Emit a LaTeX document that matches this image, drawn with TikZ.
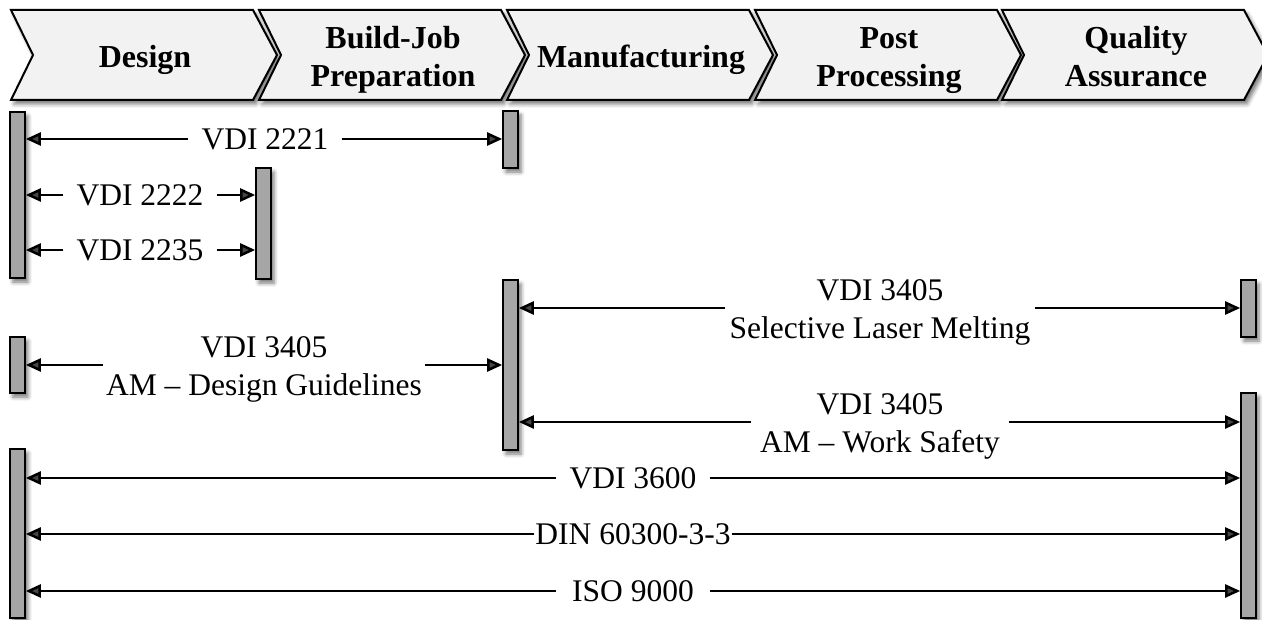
\documentclass[tikz,border=0pt]{standalone}
\usepackage{fontspec}
\setmainfont{Liberation Serif}
\usetikzlibrary{arrows.meta,shadows.blur}

\definecolor{chevfill}{HTML}{F2F2F2}
\definecolor{barfill}{HTML}{A6A6A6}

\begin{document}
\begin{tikzpicture}[x=1pt,y=-1pt,
  softshadow/.style={blur shadow={shadow xshift=3pt,shadow yshift=-4pt,
      shadow blur radius=4pt,shadow opacity=55}},
  chev/.style={draw=black,line width=2pt,fill=chevfill,line join=miter,softshadow},
  phase/.style={font=\fontsize{32}{38}\selectfont\bfseries,align=center,inner sep=0pt},
  bar/.style={draw=black,line width=1.6pt,fill=barfill,minimum width=15pt,
      inner sep=0pt,softshadow},
  std/.style={font=\fontsize{31.5}{38}\selectfont,align=center,inner ysep=0pt,inner xsep=13pt},
  arr/.style={line width=2.5pt,-{Triangle[length=15pt,width=13pt]}}
]
\useasboundingbox (0,0) rectangle (1262,620);
\clip (0,0) rectangle (1262,620);

% process chain
\foreach \x/\nm/\lab in {11/design/{\strut Design},
    259/buildjob/{\strut Build-Job\\\strut Preparation},
    507/manuf/{\strut Manufacturing},
    755/postproc/{\strut Post\\\strut Processing},
    1002/quality/{\strut Quality\\\strut Assurance}} {
  \path[chev] (\x,10) -- ++(242,0) -- ++(24,45) -- ++(-24,45) -- ++(-242,0)
    -- ++(22,-45) -- cycle;
  \node[phase] (\nm) at (\x+134,60) {\lab};
}

% scope bars
\node[bar,minimum height=166pt] (bDesA)  at (17.5,195)   {};
\node[bar,minimum height=57pt]  (bMfgA)  at (510.5,139.5) {};
\node[bar,minimum height=111pt] (bPrepA) at (263.5,223.5) {};
\node[bar,minimum height=56pt]  (bDesB)  at (17.5,365)   {};
\node[bar,minimum height=170pt] (bMfgB)  at (510.5,365)   {};
\node[bar,minimum height=57pt]  (bQaA)   at (1248.5,308.5) {};
\node[bar,minimum height=225pt] (bQaB)   at (1248.5,505.5) {};
\node[bar,minimum height=169pt] (bDesC)  at (17.5,533.5) {};

% guideline labels
\node[std] (v2221) at (265,139) {VDI 2221};
\node[std] (v2222) at (140,195) {VDI 2222};
\node[std] (v2235) at (140,250) {VDI 2235};
\node[std,inner xsep=4pt] (vslm) at (880,312) {\strut VDI 3405\\\strut Selective Laser Melting};
\node[std,inner xsep=3pt] (vamd) at (264,369) {\strut VDI 3405\\\strut AM -- Design Guidelines};
\node[std,inner xsep=9pt] (vws)  at (880,426) {\strut VDI 3405\\\strut AM -- Work Safety};
\node[std] (v3600) at (633,478) {VDI 3600};
\node[std,inner xsep=1pt] (din)  at (633,534) {DIN 60300-3-3};
\node[std,inner xsep=16pt] (iso) at (633,591) {ISO 9000};

% arrow starts beside the two-line labels, between their lines
\coordinate (slmL) at ([yshift=4pt]vslm.west);
\coordinate (slmR) at ([yshift=4pt]vslm.east);
\coordinate (amdL) at ([yshift=4pt]vamd.west);
\coordinate (amdR) at ([yshift=4pt]vamd.east);
\coordinate (wsL)  at ([yshift=4pt]vws.west);
\coordinate (wsR)  at ([yshift=4pt]vws.east);

% range arrows
\draw[arr] (v2221.west) -- (bDesA.east |- v2221.west);
\draw[arr] (v2221.east) -- (bMfgA.west |- v2221.east);
\draw[arr] (v2222.west) -- (bDesA.east |- v2222.west);
\draw[arr] (v2222.east) -- (bPrepA.west |- v2222.east);
\draw[arr] (v2235.west) -- (bDesA.east |- v2235.west);
\draw[arr] (v2235.east) -- (bPrepA.west |- v2235.east);
\draw[arr] (slmL) -- (bMfgB.east |- slmL);
\draw[arr] (slmR) -- (bQaA.west |- slmR);
\draw[arr] (amdL) -- (bDesB.east |- amdL);
\draw[arr] (amdR) -- (bMfgB.west |- amdR);
\draw[arr] (wsL) -- (bMfgB.east |- wsL);
\draw[arr] (wsR) -- (bQaB.west |- wsR);
\draw[arr] (v3600.west) -- (bDesC.east |- v3600.west);
\draw[arr] (v3600.east) -- (bQaB.west |- v3600.east);
\draw[arr] (din.west) -- (bDesC.east |- din.west);
\draw[arr] (din.east) -- (bQaB.west |- din.east);
\draw[arr] (iso.west) -- (bDesC.east |- iso.west);
\draw[arr] (iso.east) -- (bQaB.west |- iso.east);
\end{tikzpicture}
\end{document}
